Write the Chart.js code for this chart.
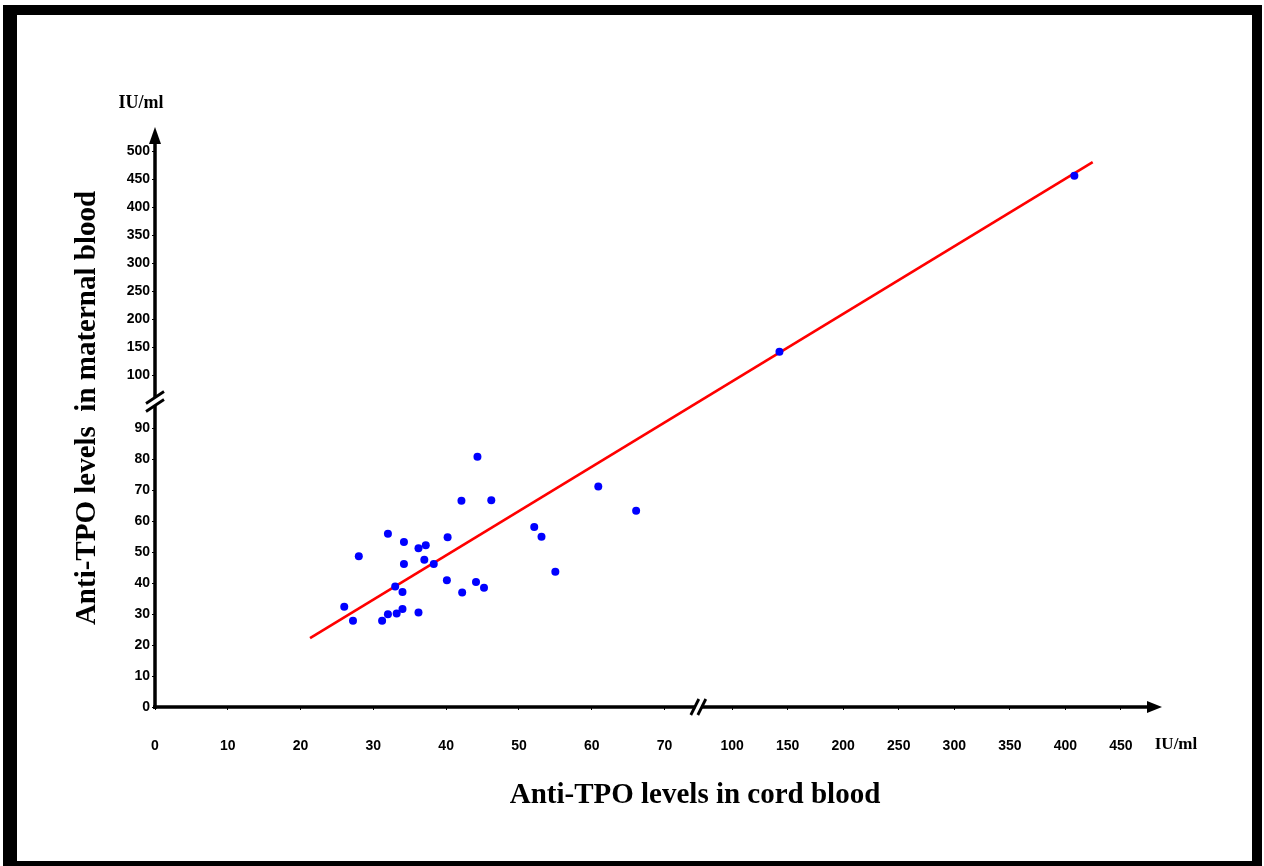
<!DOCTYPE html>
<html>
<head>
<meta charset="utf-8">
<title>Anti-TPO levels</title>
<script src="https://cdn.jsdelivr.net/npm/chart.js@4.4.1/dist/chart.umd.min.js"></script>
<style>
    html, body { margin: 0; padding: 0; background: #fff; }
    canvas { display: block; }
</style>
</head>
<body>
<canvas id="chart" width="1264" height="866"></canvas>
<script>
// values (IU/ml)
const cordBlood = [
    44.3, 42.1, 46.2, 32.0, 34.2, 36.2, 37.2, 40.2, 28.0, 37.0, 34.2, 38.3,
    40.1, 44.1, 45.2, 42.2, 33.0, 34.0, 26.0, 27.2, 31.2, 32.0, 33.2, 34.0,
    36.2, 60.9, 66.1, 52.1, 53.1, 55.0, 142.6, 408.1,
];
const maternalBlood = [
    80.7, 66.5, 66.7, 55.9, 53.2, 51.2, 52.2, 54.8, 48.6, 47.5, 46.1, 46.1,
    40.9, 40.3, 38.5, 36.9, 38.9, 37.1, 32.3, 27.8, 27.8, 29.9, 30.2, 31.6,
    30.5, 71.1, 63.3, 58.1, 54.9, 43.6, 141.6, 455.9,
];
const fitCord = [21.3, 424.6];
const fitMaternal = [22.2, 480.4];

const xTicks = [0, 10, 20, 30, 40, 50, 60, 70, 100, 150, 200, 250, 300, 350, 400, 450];
const yTicks = [0, 10, 20, 30, 40, 50, 60, 70, 80, 90, 100, 150, 200, 250, 300, 350, 400, 450, 500];

// linear scale with a cut: values above cut.to are squeezed by cut.factor
class BrokenScale extends Chart.LinearScale {
    static id = "broken";

    toT(v) {
        const c = this.options.cut;
        if (v <= c.from) return v;
        if (v >= c.to) return c.toT + (v - c.to) * c.factor;
        return c.from + ((v - c.from) / (c.to - c.from)) * (c.toT - c.from);
    }

    fromT(t) {
        const c = this.options.cut;
        if (t <= c.from) return t;
        if (t >= c.toT) return c.to + (t - c.toT) / c.factor;
        return c.from + ((t - c.from) / (c.toT - c.from)) * (c.to - c.from);
    }

    getPixelForValue(value) {
        const t0 = this.toT(this.min);
        const t1 = this.toT(this.max);
        return this.getPixelForDecimal((this.toT(value) - t0) / (t1 - t0));
    }

    getValueForPixel(pixel) {
        const t0 = this.toT(this.min);
        const t1 = this.toT(this.max);
        return this.fromT(t0 + this.getDecimalForPixel(pixel) * (t1 - t0));
    }
}
Chart.register(BrokenScale);

const tickFont = { family: "'Liberation Sans', Arial, sans-serif", size: 14, weight: "bold" };
const serif = "'Liberation Serif', 'Times New Roman', serif";

const decorations = {
    id: "decorations",
    beforeDraw(chart) {
        const { ctx, width, height } = chart;
        ctx.save();
        ctx.fillStyle = "#fff";
        ctx.fillRect(0, 0, width, height);
        ctx.fillStyle = "#000";
        ctx.fillRect(3, 5, width - 5, 10);
        ctx.fillRect(3, 5, 14, height - 5);
        ctx.fillRect(width - 12, 5, 10, height - 5);
        ctx.fillRect(3, height - 5, width - 5, 5);
        ctx.restore();
    },
    afterDraw(chart) {
        const { ctx, chartArea } = chart;
        const x = chart.scales.x;
        const y = chart.scales.y;
        const ox = x.getPixelForValue(0);
        const oy = y.getPixelForValue(0);

        ctx.save();
        ctx.strokeStyle = "#000";
        ctx.fillStyle = "#000";

        // axis lines
        ctx.lineWidth = 3.5;
        ctx.beginPath();
        ctx.moveTo(ox, oy + 2);
        ctx.lineTo(ox, chartArea.top + 14);
        ctx.stroke();
        ctx.lineWidth = 3.3;
        ctx.beginPath();
        ctx.moveTo(ox - 2, oy);
        ctx.lineTo(chartArea.right - 12, oy);
        ctx.stroke();

        // arrow heads
        ctx.beginPath();
        ctx.moveTo(ox, chartArea.top);
        ctx.lineTo(ox - 6, chartArea.top + 17);
        ctx.lineTo(ox + 6, chartArea.top + 17);
        ctx.closePath();
        ctx.fill();
        ctx.beginPath();
        ctx.moveTo(chartArea.right, oy);
        ctx.lineTo(chartArea.right - 15, oy - 6);
        ctx.lineTo(chartArea.right - 15, oy + 6);
        ctx.closePath();
        ctx.fill();

        // break marks
        const cutX = (x.getPixelForValue(x.options.cut.from) + x.getPixelForValue(x.options.cut.to)) / 2;
        const cutY = (y.getPixelForValue(y.options.cut.from) + y.getPixelForValue(y.options.cut.to)) / 2;
        ctx.fillStyle = "#fff";
        ctx.fillRect(cutX - 3, oy - 3, 6, 6);
        ctx.fillRect(ox - 3, cutY - 4, 6, 8);
        ctx.lineWidth = 2.8;
        for (const dx of [-3.5, 3.5]) {
            ctx.beginPath();
            ctx.moveTo(cutX + dx - 4, oy + 8);
            ctx.lineTo(cutX + dx + 4, oy - 8);
            ctx.stroke();
        }
        for (const dy of [-4, 4]) {
            ctx.beginPath();
            ctx.moveTo(ox - 9, cutY + dy + 6);
            ctx.lineTo(ox + 9, cutY + dy - 6);
            ctx.stroke();
        }

        // units and axis titles
        ctx.fillStyle = "#000";
        ctx.textAlign = "center";
        ctx.textBaseline = "middle";
        ctx.font = `bold 18px ${serif}`;
        ctx.fillText("IU/ml", 141, 103);
        ctx.font = `bold 17px ${serif}`;
        ctx.fillText("IU/ml", 1176, 745);

        ctx.font = `bold 29px ${serif}`;
        ctx.fillText("Anti-TPO levels in cord blood", 695, 796);
        ctx.translate(88, 408);
        ctx.rotate(-Math.PI / 2);
        ctx.font = `bold 29px ${serif}`;
        ctx.fillText("Anti-TPO levels  in maternal blood", 0, 0);
        ctx.restore();
    },
};

new Chart(document.getElementById("chart"), {
    type: "scatter",
    data: {
        datasets: [
            {
                data: cordBlood.map((v, i) => ({ x: v, y: maternalBlood[i] })),
                backgroundColor: "#0000ff",
                borderWidth: 0,
                pointRadius: 4,
            },
            {
                data: fitCord.map((v, i) => ({ x: v, y: fitMaternal[i] })),
                showLine: true,
                borderColor: "#ff0000",
                borderWidth: 2.6,
                pointRadius: 0,
            },
        ],
    },
    options: {
        responsive: false,
        animation: false,
        events: [],
        layout: { padding: { top: 127, right: 102, left: 0, bottom: 0 } },
        plugins: {
            legend: { display: false },
            tooltip: { enabled: false },
        },
        scales: {
            x: {
                type: "broken",
                min: 0,
                max: 487,
                cut: { from: 70, to: 100, toT: 79.29, factor: 0.1526 },
                afterBuildTicks: (scale) => {
                    scale.ticks = xTicks.map((v) => ({ value: v }));
                },
                afterFit: (scale) => {
                    scale.height = 159;
                },
                grid: { display: true, drawOnChartArea: false, tickLength: 3, color: "#000", lineWidth: 1 },
                border: { display: false },
                ticks: {
                    autoSkip: false,
                    maxRotation: 0,
                    padding: 28,
                    color: "#000",
                    font: tickFont,
                    callback: (v) => String(v),
                },
            },
            y: {
                type: "broken",
                min: 0,
                max: 543,
                cut: { from: 90, to: 100, toT: 107.1, factor: 0.1806 },
                afterBuildTicks: (scale) => {
                    scale.ticks = yTicks.map((v) => ({ value: v }));
                },
                afterFit: (scale) => {
                    scale.width = 155;
                },
                grid: { display: true, drawOnChartArea: false, tickLength: 3, color: "#000", lineWidth: 1 },
                border: { display: false },
                ticks: {
                    autoSkip: false,
                    padding: 2,
                    color: "#000",
                    font: tickFont,
                    callback: (v) => String(v),
                },
            },
        },
    },
    plugins: [decorations],
});
</script>
</body>
</html>
